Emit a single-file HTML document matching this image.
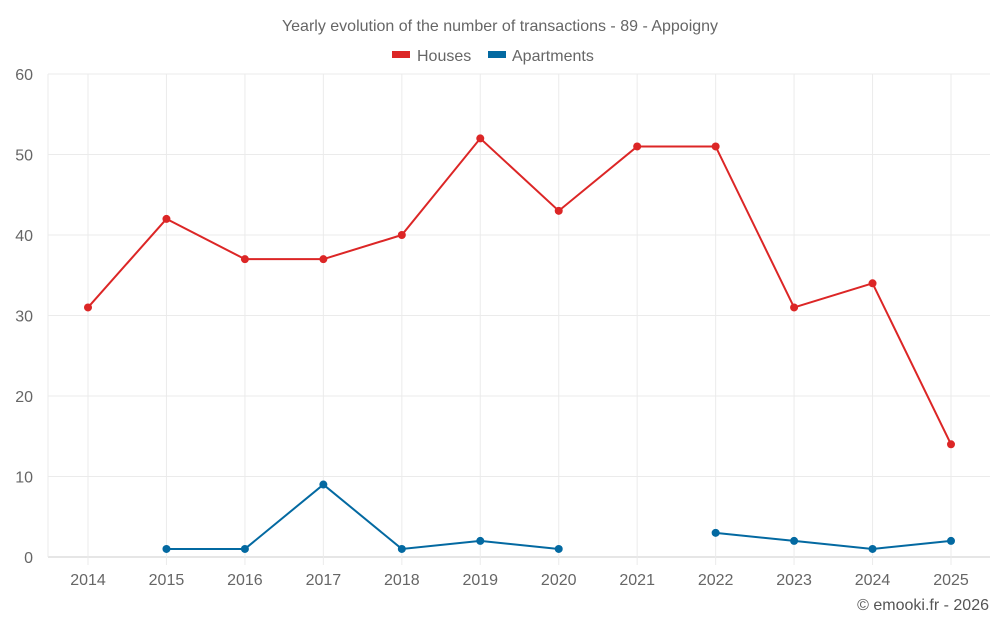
<!DOCTYPE html>
<html><head><meta charset="utf-8">
<style>
body{margin:0;background:#fff;font-family:"Liberation Sans",sans-serif;}
svg{display:block}
</style></head>
<body>
<svg id="chart" width="1000" height="625">
<text x="500" y="31" text-anchor="middle" font-size="16" fill="#666">Yearly evolution of the number of transactions - 89 - Appoigny</text>
<g>
<g><rect x="392" y="51" width="18" height="7" fill="#dc2626"/><text x="417" y="61" font-size="16" fill="#666">Houses</text></g>
<g><rect x="488" y="51" width="18" height="7" fill="#0369a1"/><text x="512" y="61" font-size="16" fill="#666">Apartments</text></g>
</g>
<g id="grid"></g><g id="axes"></g><g id="series"></g>
<text x="989" y="610" text-anchor="end" font-size="16" fill="#555">© emooki.fr - 2026</text>
</svg>
<script>
const years=[2014,2015,2016,2017,2018,2019,2020,2021,2022,2023,2024,2025];
const houses=[31,42,37,37,40,52,43,51,51,31,34,14];
const apartments=[null,1,1,9,1,2,1,null,3,2,1,2];
const yTicks=[0,10,20,30,40,50,60];
const NS="http://www.w3.org/2000/svg";
const x=i=>88+i*(951-88)/11;
const y=v=>557-v*(557-74)/60;
function mk(t,a,p){const e=document.createElementNS(NS,t);for(const k in a)e.setAttribute(k,a[k]);p.appendChild(e);return e;}
const grid=document.getElementById('grid'),axes=document.getElementById('axes'),ser=document.getElementById('series');
yTicks.forEach(t=>{
 const l=mk('line',{x1:48,x2:990,y1:y(t),y2:y(t),stroke:t===0?'#ccc':'#ebebeb'},grid);
 
 const tx=mk('text',{x:33,y:y(t)+6,'text-anchor':'end','font-size':16,fill:'#666'},axes);tx.textContent=t;
 
});
const lb=mk('line',{x1:48,x2:48,y1:74,y2:557,stroke:'#ebebeb'},grid);
years.forEach((yr,i)=>{
 const l=mk('line',{x1:x(i),x2:x(i),y1:74,y2:565,stroke:'#ebebeb'},grid);
 
 const tx=mk('text',{x:x(i),y:585,'text-anchor':'middle','font-size':16,fill:'#666'},axes);tx.textContent=yr;
 
});
function draw(data,color,name){
 let d='',pen=false;
 data.forEach((v,i)=>{if(v==null){pen=false;return;}d+=(pen?'L':'M')+x(i)+','+y(v);pen=true;});
 const p=mk('path',{d:d,fill:'none',stroke:color,'stroke-width':2},ser);
 
 data.forEach((v,i)=>{if(v==null)return;
  const c=mk('circle',{cx:x(i),cy:y(v),r:4,fill:color},ser);
  });
}
draw(houses,'#dc2626','houses');
draw(apartments,'#0369a1','apartments');
</script>
</body></html>
